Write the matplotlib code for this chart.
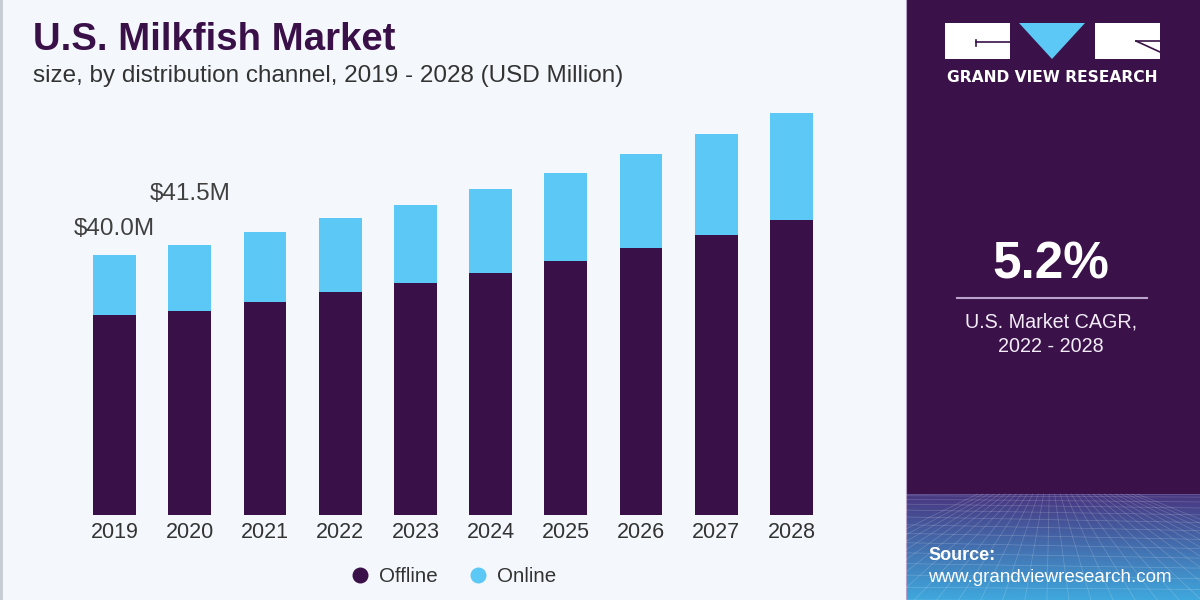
import numpy as np
import matplotlib
matplotlib.use("Agg")
import matplotlib.pyplot as plt
from matplotlib.patches import Rectangle, Polygon
from matplotlib.lines import Line2D

# data (USD Million)
years = ["2019", "2020", "2021", "2022", "2023", "2024", "2025", "2026", "2027", "2028"]
offline = [30.8, 31.4, 32.8, 34.3, 35.7, 37.2, 39.1, 41.1, 43.1, 45.4]
online = [9.2, 10.1, 10.8, 11.4, 12.0, 12.9, 13.5, 14.4, 15.5, 16.4]
labelled = {0: "$40.0M", 1: "$41.5M"}
label_offset_pt = {0: 11, 1: 29}

PURPLE = "#3a1049"
CYAN = "#5bc8f5"
BG = "#f4f8fc"
PANEL = "#3a1249"
TEXT = "#333333"

plt.rcParams["font.family"] = ["Liberation Sans", "DejaVu Sans"]

fig = plt.figure(figsize=(12, 6), dpi=100)
fig.patch.set_facecolor(BG)

# decoration layer in pixel coordinates
deco = fig.add_axes([0, 0, 1, 1], zorder=0)
deco.set_xlim(0, 1200)
deco.set_ylim(600, 0)
deco.axis("off")

deco.add_patch(Rectangle((0, 0), 2.5, 600, color="#c8cdd3", lw=0))
deco.add_patch(Rectangle((906, 0), 294, 494, color=PANEL, lw=0))
deco.plot([905.5, 905.5], [0, 600], color="#b9a2c8", lw=0.8)

# gradient footer with a mesh
grad = np.linspace(0, 1, 120)[:, None]
top_c = np.array([0x48, 0x36, 0x80]) / 255
bot_c = np.array([0x3f, 0xa8, 0xdd]) / 255
img = top_c[None, None, :] * (1 - grad[..., None]) + bot_c[None, None, :] * grad[..., None]
img = np.repeat(img, 2, axis=1)
deco.imshow(img, extent=[906, 1200, 600, 494], aspect="auto", zorder=1)
for k in np.linspace(0, 1, 14):
    yy = 494 + 106 * k ** 1.6
    deco.plot([906, 1200], [yy, yy + 6 * np.sin(k * 3)], color="white", lw=0.5, alpha=0.2, zorder=2)
for xb in np.linspace(760, 1400, 30):
    deco.plot([1050 + (xb - 1050) * 0.25, xb], [494, 600], color="white", lw=0.5, alpha=0.2, zorder=2)

# logo
deco.add_patch(Rectangle((945, 23), 65, 36, color="white", lw=0, zorder=3))
deco.add_patch(Rectangle((1095, 23), 65, 36, color="white", lw=0, zorder=3))
deco.add_patch(Polygon([[1019, 23], [1085, 23], [1052, 59]], color=CYAN, lw=0, zorder=3))
deco.plot([976, 1010], [42, 42], color=PANEL, lw=1.2, zorder=4)
deco.plot([976, 976], [40, 46], color=PANEL, lw=1.2, zorder=4)
deco.plot([1136, 1160], [41, 41], color=PANEL, lw=1.2, zorder=4)
deco.plot([1136, 1160], [41, 52], color=PANEL, lw=1.2, zorder=4)
deco.text(1052, 78, "GRAND VIEW RESEARCH", color="white", fontsize=11.2,
          fontweight="bold", family=["DejaVu Sans"], ha="center", va="center", zorder=4)

# CAGR block
deco.text(1051, 265, "5.2%", color="white", fontsize=37, fontweight="bold",
          ha="center", va="center", zorder=4)
deco.plot([957, 1147], [298, 298], color="#b9a2cc", lw=1.5, zorder=4)
deco.text(1051, 322, "U.S. Market CAGR,", color="#f3ecf7", fontsize=14.2,
          ha="center", va="center", zorder=4)
deco.text(1051, 346, "2022 - 2028", color="#f3ecf7", fontsize=14.2,
          ha="center", va="center", zorder=4)

deco.text(928, 556, "Source:", color="white", fontsize=13, fontweight="bold",
          ha="left", va="center", zorder=4)
deco.text(928, 578, "www.grandviewresearch.com", color="white", fontsize=13.5,
          ha="left", va="center", zorder=4)

# titles
deco.text(33, 40, "U.S. Milkfish Market", color=PURPLE, fontsize=27.6,
          fontweight="bold", ha="left", va="center", zorder=4)
deco.text(33, 76, "size, by distribution channel, 2019 - 2028 (USD Million)",
          color=TEXT, fontsize=17.5, ha="left", va="center", zorder=4)

# main chart
ax = fig.add_axes([69.4 / 1200, 85 / 600, 767.2 / 1200, 455 / 600], zorder=2)
ax.patch.set_alpha(0)
x = np.arange(len(years))
w = 0.57
ax.bar(x, offline, width=w, color=PURPLE, zorder=2)
ax.bar(x, online, width=w, bottom=offline, color=CYAN, zorder=2)
ax.set_xlim(-0.6, 9.6)
ax.set_ylim(0, 70)
ax.set_xticks(x, years)
ax.tick_params(axis="x", length=0, pad=5, labelsize=15.5, labelcolor=TEXT)
ax.set_yticks([])
for s in ax.spines.values():
    s.set_visible(False)

for i, txt in labelled.items():
    ax.annotate(txt, xy=(i, offline[i] + online[i]), xytext=(0, label_offset_pt[i]),
                textcoords="offset points", ha="center", va="bottom",
                fontsize=17.5, color="#404040")

handles = [Line2D([], [], marker="o", ls="", markersize=10.5, color=PURPLE, label="Offline"),
           Line2D([], [], marker="o", ls="", markersize=10.5, color=CYAN, label="Online")]
leg = fig.legend(handles=handles, loc="center", bbox_to_anchor=(454 / 1200, 1 - 577 / 600),
                 ncol=2, frameon=False, fontsize=14.8, handlelength=0.8,
                 handletextpad=0.5, columnspacing=1.6)
for t in leg.get_texts():
    t.set_color(TEXT)

fig.savefig("out.png", dpi=100, facecolor=BG)
